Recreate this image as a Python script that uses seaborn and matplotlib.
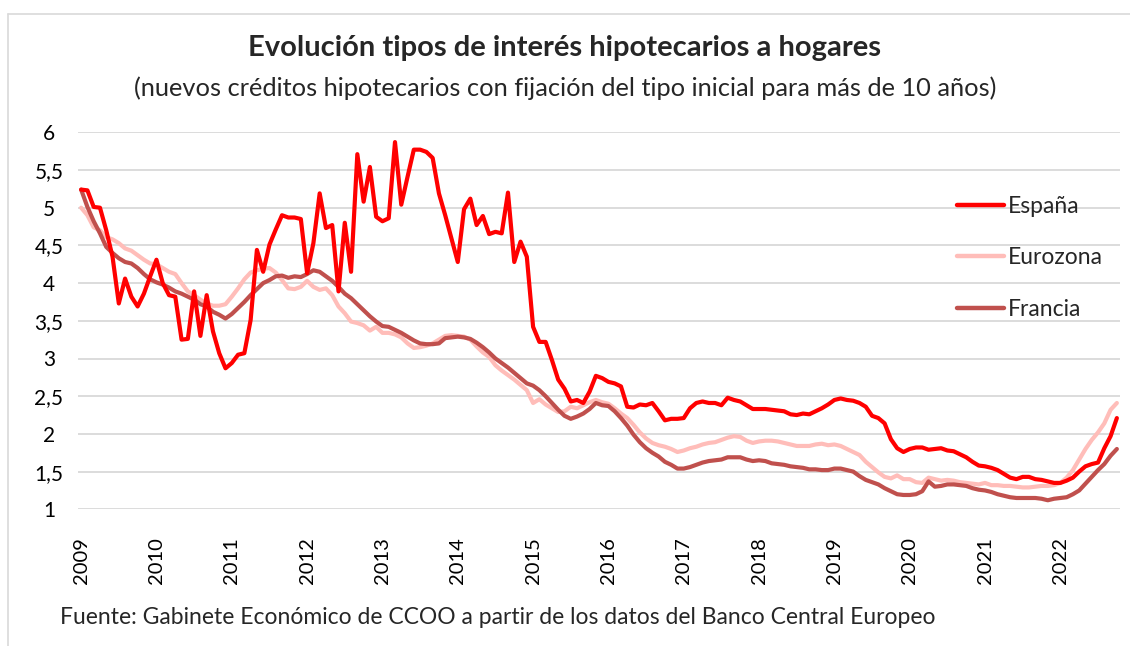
import pandas as pd
import matplotlib
matplotlib.use("Agg")
import matplotlib.pyplot as plt
from matplotlib.lines import Line2D
import seaborn as sns

# Tipos de interés hipotecarios, mensual, ene-2009 a oct-2022 (una fila por año)
espana = [
    5.24, 5.23, 5.01, 5.00, 4.70, 4.35, 3.73, 4.06, 3.82, 3.69, 3.86, 4.09,
    4.31, 4.00, 3.84, 3.82, 3.25, 3.26, 3.89, 3.30, 3.84, 3.36, 3.07, 2.87,
    2.94, 3.05, 3.07, 3.51, 4.44, 4.15, 4.51, 4.71, 4.90, 4.87, 4.87, 4.85,
    4.13, 4.53, 5.19, 4.73, 4.77, 3.89, 4.80, 4.15, 5.71, 5.08, 5.54, 4.88,
    4.82, 4.86, 5.87, 5.04, 5.41, 5.77, 5.77, 5.74, 5.66, 5.19, 4.90, 4.59,
    4.28, 4.98, 5.12, 4.77, 4.89, 4.65, 4.68, 4.66, 5.20, 4.28, 4.55, 4.35,
    3.42, 3.22, 3.22, 2.98, 2.72, 2.60, 2.43, 2.45, 2.41, 2.56, 2.77, 2.74,
    2.69, 2.67, 2.63, 2.36, 2.35, 2.39, 2.38, 2.41, 2.30, 2.18, 2.20, 2.20,
    2.21, 2.34, 2.41, 2.43, 2.41, 2.41, 2.38, 2.48, 2.45, 2.43, 2.38, 2.33,
    2.33, 2.33, 2.32, 2.31, 2.30, 2.26, 2.25, 2.27, 2.26, 2.30, 2.34, 2.39,
    2.45, 2.47, 2.45, 2.44, 2.41, 2.36, 2.24, 2.21, 2.14, 1.93, 1.81, 1.76,
    1.80, 1.82, 1.82, 1.79, 1.80, 1.81, 1.78, 1.77, 1.73, 1.69, 1.63, 1.58,
    1.57, 1.55, 1.52, 1.47, 1.42, 1.40, 1.43, 1.43, 1.40, 1.39, 1.37, 1.35,
    1.35, 1.38, 1.42, 1.50, 1.57, 1.60, 1.62, 1.81, 1.97, 2.21,
]
eurozona = [
    5.00, 4.90, 4.74, 4.70, 4.61, 4.58, 4.53, 4.46, 4.43, 4.37, 4.31, 4.26,
    4.25, 4.20, 4.15, 4.12, 4.00, 3.89, 3.84, 3.78, 3.73, 3.70, 3.70, 3.72,
    3.82, 3.93, 4.05, 4.14, 4.17, 4.19, 4.20, 4.14, 4.04, 3.93, 3.92, 3.95,
    4.03, 3.95, 3.91, 3.93, 3.84, 3.69, 3.60, 3.49, 3.47, 3.44, 3.37, 3.42,
    3.34, 3.34, 3.32, 3.28, 3.20, 3.14, 3.15, 3.17, 3.20, 3.25, 3.30, 3.31,
    3.30, 3.29, 3.25, 3.16, 3.08, 3.02, 2.91, 2.84, 2.78, 2.72, 2.65, 2.58,
    2.41, 2.46, 2.39, 2.34, 2.29, 2.30, 2.36, 2.34, 2.38, 2.42, 2.45, 2.42,
    2.40, 2.34, 2.27, 2.21, 2.12, 2.02, 1.94, 1.88, 1.85, 1.83, 1.80, 1.76,
    1.78, 1.81, 1.83, 1.86, 1.88, 1.89, 1.92, 1.95, 1.97, 1.96, 1.91, 1.88,
    1.90, 1.91, 1.91, 1.90, 1.88, 1.86, 1.84, 1.84, 1.84, 1.86, 1.87, 1.85,
    1.86, 1.84, 1.80, 1.76, 1.72, 1.63, 1.56, 1.49, 1.43, 1.41, 1.45, 1.40,
    1.40, 1.36, 1.35, 1.42, 1.40, 1.38, 1.39, 1.38, 1.36, 1.35, 1.34, 1.33,
    1.35, 1.32, 1.32, 1.31, 1.31, 1.30, 1.29, 1.29, 1.30, 1.31, 1.31, 1.32,
    1.35, 1.42, 1.52, 1.66, 1.80, 1.92, 2.02, 2.14, 2.32, 2.41,
]
francia = [
    5.24, 5.01, 4.82, 4.66, 4.48, 4.40, 4.33, 4.28, 4.26, 4.20, 4.12, 4.05,
    4.01, 3.98, 3.94, 3.89, 3.86, 3.82, 3.78, 3.72, 3.69, 3.62, 3.58, 3.53,
    3.59, 3.67, 3.75, 3.84, 3.92, 4.00, 4.04, 4.09, 4.10, 4.07, 4.09, 4.08,
    4.12, 4.17, 4.15, 4.09, 4.03, 3.95, 3.86, 3.80, 3.72, 3.64, 3.56, 3.49,
    3.43, 3.42, 3.38, 3.34, 3.29, 3.24, 3.20, 3.19, 3.19, 3.20, 3.27, 3.28,
    3.29, 3.28, 3.26, 3.21, 3.15, 3.08, 3.00, 2.94, 2.88, 2.81, 2.74, 2.67,
    2.64, 2.58, 2.50, 2.41, 2.32, 2.24, 2.20, 2.23, 2.27, 2.33, 2.41, 2.38,
    2.37, 2.30, 2.21, 2.11, 1.99, 1.89, 1.81, 1.75, 1.70, 1.63, 1.59, 1.54,
    1.54, 1.56, 1.59, 1.62, 1.64, 1.65, 1.66, 1.69, 1.69, 1.69, 1.66, 1.64,
    1.65, 1.64, 1.61, 1.60, 1.59, 1.57, 1.56, 1.55, 1.53, 1.53, 1.52, 1.52,
    1.54, 1.54, 1.52, 1.50, 1.44, 1.39, 1.36, 1.33, 1.28, 1.24, 1.20, 1.19,
    1.19, 1.20, 1.24, 1.37, 1.30, 1.31, 1.33, 1.33, 1.32, 1.31, 1.28, 1.26,
    1.25, 1.23, 1.20, 1.18, 1.16, 1.15, 1.15, 1.15, 1.15, 1.14, 1.12, 1.14,
    1.15, 1.16, 1.20, 1.25, 1.34, 1.43, 1.52, 1.60, 1.71, 1.80,
]
series = ["España", "Eurozona", "Francia"]
colores = {"España": "#FF0000", "Eurozona": "#FFBDB9", "Francia": "#C0504D"}
anios = [str(a) for a in range(2009, 2023)]
y_ticks = [1, 1.5, 2, 2.5, 3, 3.5, 4, 4.5, 5, 5.5, 6]

n = len(espana)
df = pd.DataFrame({"mes": range(n), "España": espana,
                   "Eurozona": eurozona, "Francia": francia})
largo = df.melt(id_vars="mes", value_vars=series, var_name="serie", value_name="tipo")

sns.set_theme(style="white")
plt.rcParams["font.family"] = ["Lato", "DejaVu Sans"]

W, H = 1130, 646
fig = plt.figure(figsize=(W / 100, H / 100), dpi=100)
ax = fig.add_axes([78 / W, 1 - 509.3 / H, (1120 - 78) / W, (509.3 - 132.3) / H])

# orden de dibujo: Francia debajo, España encima
for s in ["Eurozona", "Francia", "España"]:
    sns.lineplot(data=largo[largo["serie"] == s], x="mes", y="tipo",
                 color=colores[s], linewidth=3.0, ax=ax, label=s,
                 solid_joinstyle="round", solid_capstyle="round")

ax.set_xlim(-0.5, n - 0.5)
ax.set_ylim(1, 6)
ax.set_yticks(y_ticks)
ax.set_yticklabels([f"{v:g}".replace(".", ",") for v in y_ticks], fontsize=15, ha="center")
ax.set_xticks(range(0, n, 12))
ax.set_xticklabels(anios, rotation=90, fontsize=14.5)
ax.tick_params(axis="both", length=0, colors="#000000")
ax.tick_params(axis="y", pad=21)
ax.tick_params(axis="x", pad=20)
ax.set_xlabel("")
ax.set_ylabel("")
ax.yaxis.grid(True, color="#D9D9D9", linewidth=1.3)
ax.xaxis.grid(False)
for sp in ax.spines.values():
    sp.set_visible(False)

handles = [Line2D([0], [0], color=colores[s], linewidth=3.2) for s in series]
ax.legend(handles, series, loc="upper left", bbox_to_anchor=(948 / W, 1 - 187 / H),
          bbox_transform=fig.transFigure, frameon=False, fontsize=16.5,
          handlelength=2.05, handletextpad=0.17, labelspacing=1.32, borderaxespad=0)

fig.text(0.5, 1 - 48 / H, "Evolución tipos de interés hipotecarios a hogares",
         ha="center", va="center", fontsize=21, fontweight="bold")
fig.text(0.5, 1 - 88 / H,
         "(nuevos créditos hipotecarios con fijación del tipo inicial para más de 10 años)",
         ha="center", va="center", fontsize=18.3)
fig.text(60 / W, 1 - 618 / H,
         "Fuente: Gabinete Económico de CCOO a partir de los datos del Banco Central Europeo",
         ha="left", va="center", fontsize=16.5)

# borde del área del gráfico (estilo Excel)
fig.add_artist(Line2D([8 / W, 1], [1 - 13.5 / H, 1 - 13.5 / H], color="#D9D9D9", linewidth=1.2))
fig.add_artist(Line2D([8 / W, 8 / W], [0, 1 - 13.5 / H], color="#D9D9D9", linewidth=1.2))

fig.savefig("out.png", dpi=100)
plt.close(fig)
